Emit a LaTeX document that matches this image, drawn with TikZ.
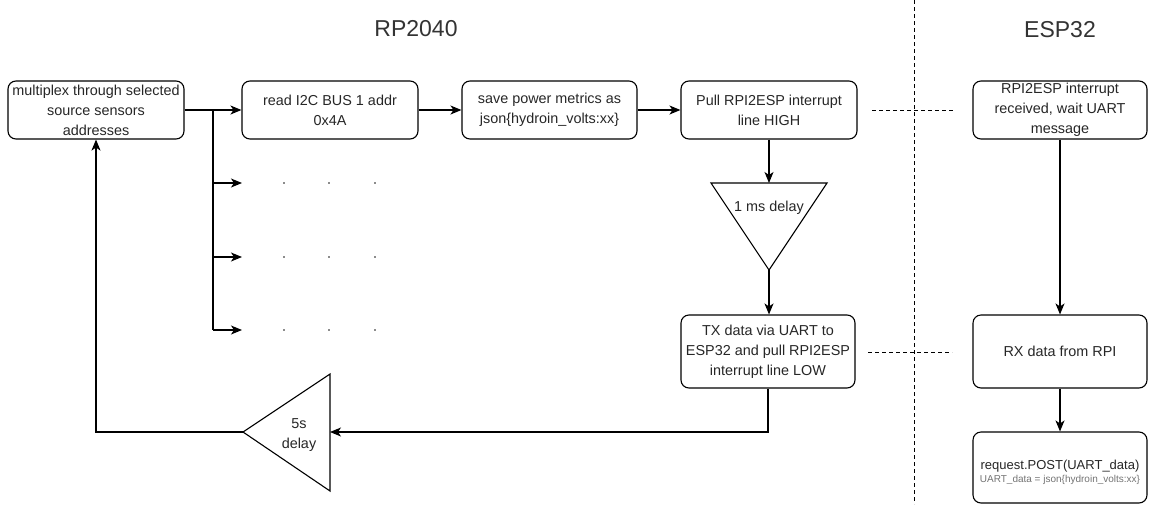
\documentclass[tikz,border=0pt]{standalone}
\usepackage{fontspec}
\setmainfont{Liberation Sans}
\usetikzlibrary{arrows.meta}
\begin{document}
\begin{tikzpicture}[x=1pt,y=-1pt,
  every node/.style={text=black!85},
  box/.style={draw=black, rounded corners=8pt, line width=1.1pt, minimum width=176pt, minimum height=58pt,
    align=center, inner sep=0pt, font=\fontsize{14.4}{20}\selectfont},
  tallbox/.style={box, minimum width=174pt, minimum height=73pt},
  title/.style={font=\fontsize{23}{26}\selectfont, text=black!80},
  tri/.style={draw=black, line width=1.1pt, line join=miter},
  conn/.style={draw=black, line width=1.2pt},
  arr/.style={conn, -{Stealth[length=11pt,width=9pt,inset=3pt]}},
  sep/.style={draw=black, line width=0.9pt, dash pattern=on 4pt off 3pt},
  dotmark/.style={fill=black!45, draw=none},
  plain/.style={align=center, inner sep=0pt, font=\fontsize{14.4}{20}\selectfont}
]
\useasboundingbox (0,0) rectangle (1149,504);

% titles
\node[title] (tRP) at (416,29) {RP2040};
\node[title] (tESP) at (1060,30) {ESP32};

% separator
\coordinate (sepT) at (914,0);
\coordinate (sepB) at (914,504);
\draw[sep] (sepT) -- (sepB);

% RP2040 boxes
\node[box] (m1) at (96,110) {multiplex through selected\\source sensors\\addresses};
\node[box] (b2) at (330,110) {read I2C BUS 1 addr\\0x4A};
\node[box, minimum width=175pt] (b3) at (549.5,110) {save power metrics as\\json\{hydroin\_volts:xx\}};
\node[box] (b4) at (769,110) {Pull RPI2ESP interrupt\\line HIGH};
\node[tallbox] (tx) at (768,351.5) {TX data via UART to\\ESP32 and pull RPI2ESP\\interrupt line LOW};

% ESP32 boxes
\node[box, minimum width=174pt] (esp) at (1060,110) {RPI2ESP interrupt\\received, wait UART\\message};
\node[tallbox] (rx) at (1060,351.5) {RX data from RPI};
\node[box, minimum width=174pt, minimum height=71pt] (req) at (1060,467.5) {};
\node[align=center, inner sep=0pt] (reqtxt) at (1060,472)
  {{\fontsize{13}{16}\selectfont request.POST(UART\_data)}\\[1pt]
   {\fontsize{10}{12}\selectfont\color{black!55}UART\_data = json\{hydroin\_volts:xx\}}};

% 1 ms delay triangle
\coordinate (t1l) at (711,183);
\coordinate (t1r) at (827,183);
\coordinate (t1top) at (769,183);
\coordinate (t1c) at (769,270);
\draw[tri] (t1l) -- (t1r) -- (t1c) -- cycle;
\node[plain] (t1) at (769,208) {1 ms delay};

% 5s delay triangle
\coordinate (t2u) at (330,374);
\coordinate (t2d) at (330,491);
\coordinate (t2r) at (330,432);
\coordinate (t2tip) at (243,432);
\draw[tri] (t2u) -- (t2d) -- (t2tip) -- cycle;
\node[plain] (t2) at (299,435) {5s\\delay};

% main flow
\draw[arr] (m1.east) -- (b2.west);
\draw[arr] (b2.east) -- (b3.west);
\draw[arr] (b3.east) -- (b4.west);
\draw[arr] (b4.south) -- (t1top);
\draw[arr] (t1c) -- (t1c |- tx.north);
\draw[arr] (tx.south) |- (t2r);
\draw[arr] (t2tip) -| (m1.south);

% branch arrows
\coordinate (br0) at (213,110);
\coordinate (e1) at (242,183);
\coordinate (e2) at (242,257);
\coordinate (e3) at (242,330);
\draw[conn] (br0) -- (br0 |- e3);
\draw[arr] (br0 |- e1) -- (e1);
\draw[arr] (br0 |- e2) -- (e2);
\draw[arr] (br0 |- e3) -- (e3);
\foreach \yy in {183,257,330} {
  \foreach \xx in {284,329,375} {
    \fill[dotmark] (\xx-1,\yy-0.7) rectangle (\xx+1,\yy+0.7);
  }
}

% ESP flow
\draw[arr] (esp.south) -- (rx.north);
\draw[arr] (rx.south) -- (req.north);

% dashed links across separator
\coordinate (d1a) at (872,110);
\coordinate (d1b) at (955,110);
\coordinate (d2a) at (868,352);
\coordinate (d2b) at (952,352);
\draw[sep] (d1a) -- (d1b);
\draw[sep] (d2a) -- (d2b);
\end{tikzpicture}
\end{document}
